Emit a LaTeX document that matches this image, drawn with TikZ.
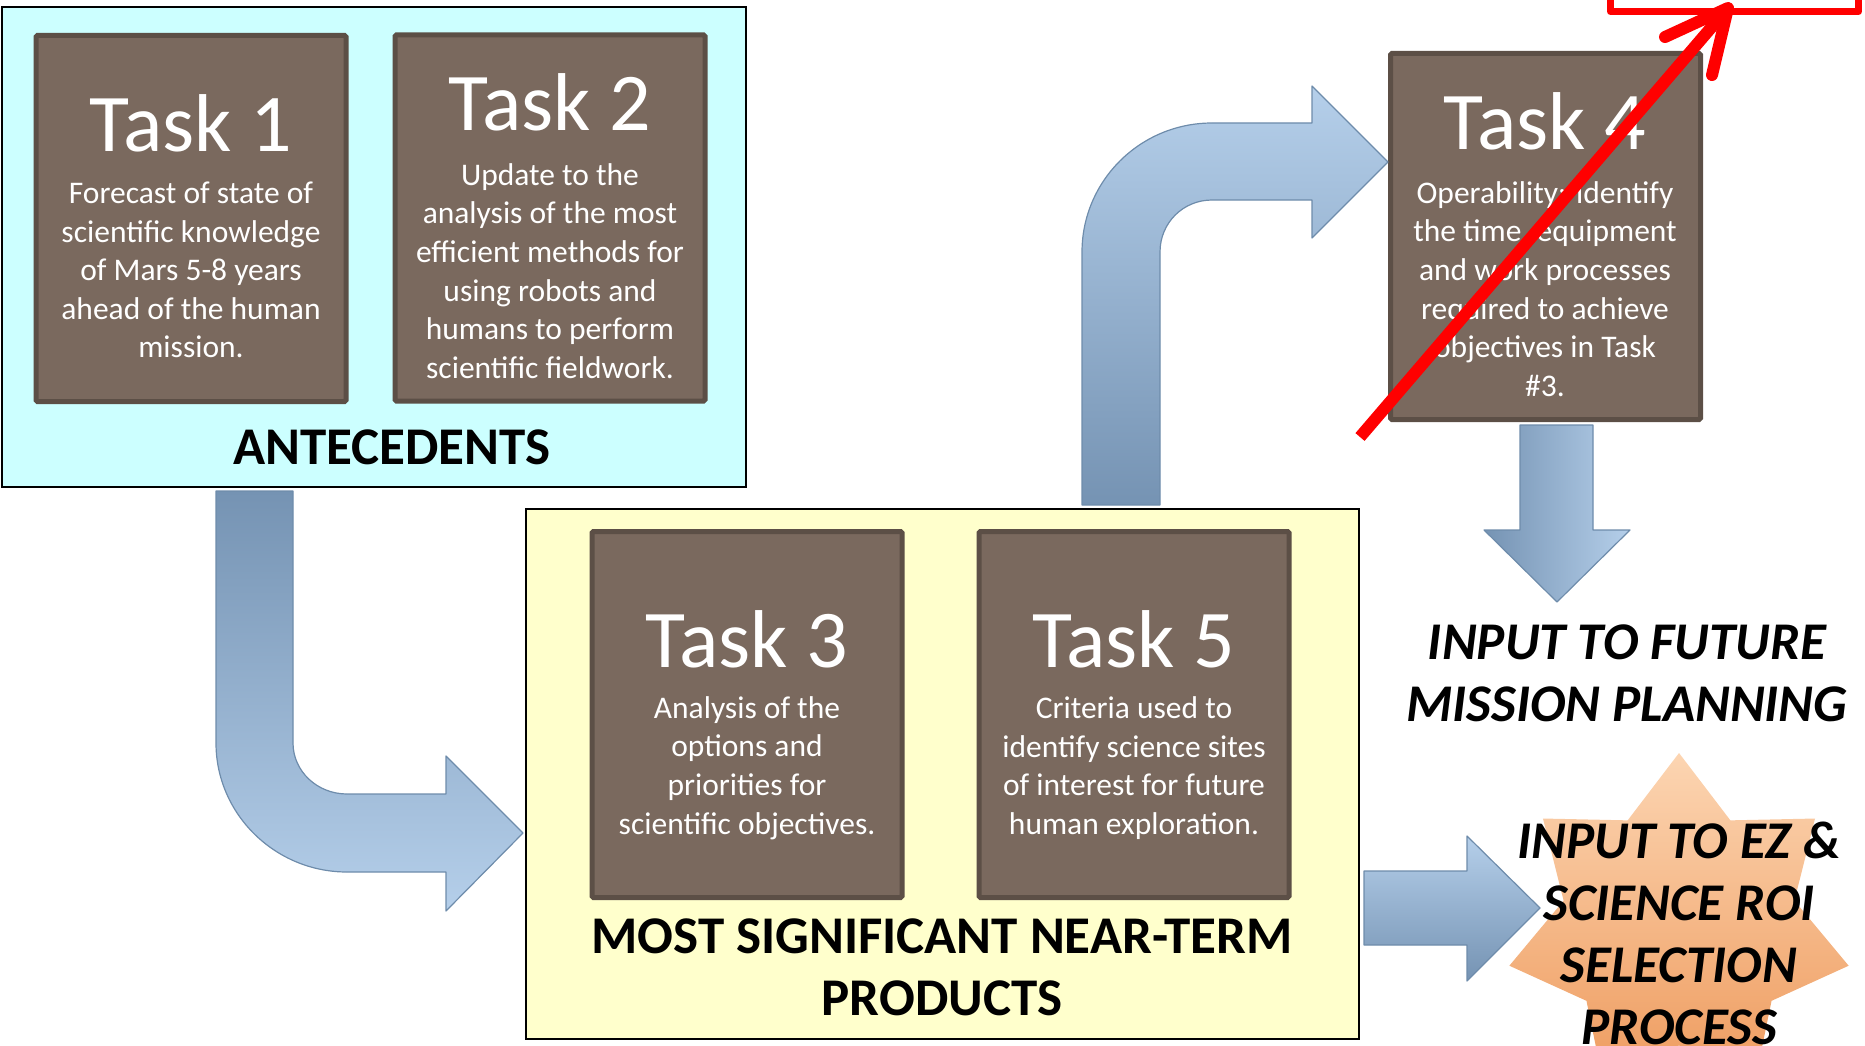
\documentclass[tikz,border=0pt]{standalone}
\usepackage{fontspec}
\setmainfont{Carlito}
\usetikzlibrary{shapes.geometric}
\definecolor{taskfill}{HTML}{7A695E}
\definecolor{taskedge}{HTML}{5C4F46}
\definecolor{antefill}{HTML}{CCFFFF}
\definecolor{prodfill}{HTML}{FFFFCC}
\definecolor{arrowlight}{HTML}{B5CFEA}
\definecolor{arrowdark}{HTML}{7593B3}
\definecolor{arrowedge}{HTML}{6E8CAB}
\definecolor{starlight}{HTML}{FCD5B2}
\definecolor{stardark}{HTML}{EE9B5E}
\newcommand{\tasktitle}{\fontsize{82}{98}\selectfont}
\newcommand{\taskbody}{\fontsize{31.5}{38.6}\selectfont}
\newcommand{\biglabel}{\fontsize{53}{62}\selectfont\bfseries}
\tikzset{
  taskbox/.style={draw=taskedge, fill=taskfill, line width=5pt, rounded corners=1.5pt,
    minimum width=310pt, minimum height=366pt, inner sep=0pt},
  tasktext/.style={text=white, align=center, inner sep=0pt},
  groupbox/.style={draw=black, line width=2pt, inner sep=0pt},
  blockarrow/.style={draw=arrowedge, line width=1.2pt, line join=round},
  redline/.style={draw=red, line width=12pt, line join=round}
}
\begin{document}
\begin{tikzpicture}[x=1pt, y=-1pt]
                \clip (0,0) rectangle (1865,1046);

                % Группы
                \node[groupbox, fill=antefill, minimum width=744pt, minimum height=480pt] (ante) at (374,247) {};
                \node[font=\biglabel, inner sep=0pt] (antelabel) at (392,447) {ANTECEDENTS};
                \node[groupbox, fill=prodfill, minimum width=833pt, minimum height=530pt] (prod) at (942.5,774) {};
                \node[font=\biglabel, align=center, inner sep=0pt] (prodlabel) at (942,967) {MOST SIGNIFICANT NEAR-TERM\\PRODUCTS};

                % Задачи
                \node[taskbox] (task1) at (191,218.5) {};
                \node[taskbox] (task2) at (550,218) {};
                \node[taskbox] (task3) at (747,714.5) {};
                \node[taskbox] (task5) at (1134,714.5) {};
                \node[taskbox] (task4) at (1545.5,236.5) {};

                \node[tasktext, font=\tasktitle] (task1title) at (191,123) {Task 1};
                \node[tasktext, font=\taskbody] (task1body) at (191,270) {Forecast of state of\\scientific knowledge\\of Mars 5-8 years\\ahead of the human\\mission.};
                \node[tasktext, font=\tasktitle] (task2title) at (550,102) {Task 2};
                \node[tasktext, font=\taskbody] (task2body) at (550,271) {Update to the\\analysis of the most\\efficient methods for\\using robots and\\humans to perform\\scientific fieldwork.};
                \node[tasktext, font=\tasktitle] (task3title) at (747,639) {Task 3};
                \node[tasktext, font=\taskbody] (task3body) at (747,768) {Analysis of the\\options and\\priorities for\\scientific objectives.};
                \node[tasktext, font=\tasktitle] (task5title) at (1134,639) {Task 5};
                \node[tasktext, font=\taskbody] (task5body) at (1134,768) {Criteria used to\\identify science sites\\of interest for future\\human exploration.};
                \node[tasktext, font=\tasktitle] (task4title) at (1545,121) {Task 4};
                \node[tasktext, font=\taskbody] (task4body) at (1545,289) {Operability: identify\\the time, equipment\\and work processes\\required to achieve\\objectives in Task\\\#3.};

                % Стрелки-фигуры
                \draw[blockarrow, top color=arrowdark, bottom color=arrowlight]
                    (216,491) -- (216,743)
                    .. controls (216,814) and (275,872) .. (347,872)
                    -- (446,872) -- (446,911) -- (523,833) -- (446,756) -- (446,794) -- (347,794)
                    .. controls (317,794) and (293,771) .. (293,743)
                    -- (293,491) -- cycle;
                \draw[blockarrow, top color=arrowlight, bottom color=arrowdark]
                    (1082,505) -- (1082,252)
                    .. controls (1082,181) and (1140,123) .. (1212,123)
                    -- (1312,123) -- (1312,86) -- (1388,162) -- (1312,238) -- (1312,200) -- (1212,200)
                    .. controls (1183,200) and (1160,223) .. (1160,252)
                    -- (1160,505) -- cycle;
                \draw[blockarrow, left color=arrowdark, right color=arrowlight]
                    (1520,425) -- (1520,530) -- (1484,530) -- (1557,602) -- (1630,530) -- (1593,530) -- (1593,425) -- cycle;
                \draw[blockarrow, top color=arrowlight, bottom color=arrowdark]
                    (1364,871) -- (1467,871) -- (1467,836) -- (1540,908) -- (1467,981) -- (1467,945) -- (1364,945) -- cycle;

                % Выходы
                \node[font=\biglabel\itshape, align=center, inner sep=0pt] (futurelabel) at (1627,673) {INPUT TO FUTURE\\MISSION PLANNING};
                \node[star, star points=7, star point ratio=1.47, minimum size=348pt, inner sep=0pt,
                      top color=starlight, bottom color=stardark] (roistar) at (1679,927) {};
                \node[font=\biglabel\itshape, align=center, inner sep=0pt] (roilabel) at (1679,933) {INPUT TO EZ \&\\SCIENCE ROI\\SELECTION\\PROCESS};

                % Красная стрелка
                \node[draw=red, line width=7pt, line join=round, minimum width=248pt, minimum height=100pt, inner sep=0pt] (redbox) at (1734.5,-38.5) {};
                \coordinate (redtail) at (1360,437);
                \coordinate (redtip) at (1728,8);
                \coordinate (redbarbl) at (1665,37);
                \coordinate (redbarbr) at (1712,75);
                \draw[redline] (redtail) -- (redtip);
                \draw[redline, line cap=round] (redbarbl) -- (redtip) -- (redbarbr);
\end{tikzpicture}
\end{document}
